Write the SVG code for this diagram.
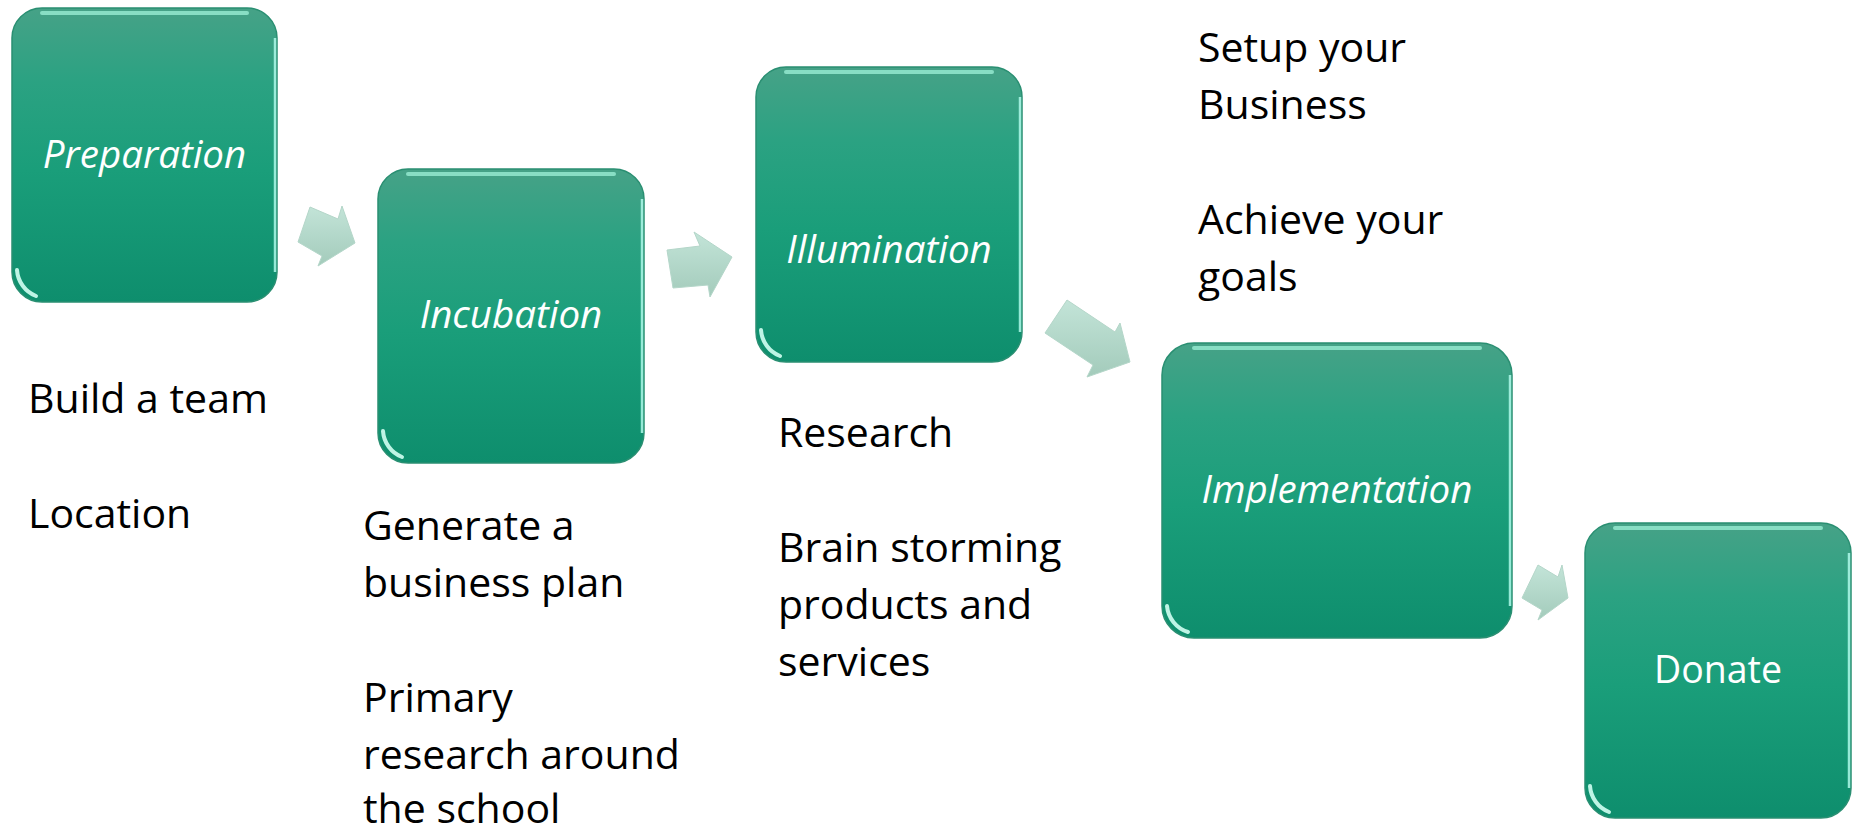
<svg xmlns="http://www.w3.org/2000/svg" width="1856" height="832" viewBox="0 0 1856 832">
<defs>
<linearGradient id="boxg" x1="0" y1="0" x2="0" y2="1">
<stop offset="0" stop-color="#46a287"/>
<stop offset="0.25" stop-color="#2ba282"/>
<stop offset="0.55" stop-color="#1a9e7a"/>
<stop offset="1" stop-color="#0e8e6d"/>
</linearGradient>
<linearGradient id="arrg" x1="0" y1="0" x2="0" y2="1">
<stop offset="0" stop-color="#c3e4d8"/>
<stop offset="1" stop-color="#a3cbbb"/>
</linearGradient>
<style>
.box{fill:url(#boxg);stroke:#2a8f72;stroke-width:1.5}
.hl-top{fill:none;stroke:#9ff2d8;stroke-width:4;stroke-linecap:round;opacity:0.75}
.hl-right{fill:none;stroke:#b8fff0;stroke-width:2.5;opacity:0.8}
.hl-corner{fill:none;stroke:#d2fff2;stroke-width:4;stroke-linecap:round;opacity:0.9}
.lbl{font-family:"Open Sans","Noto Sans",sans-serif;font-size:38.5px;fill:#ffffff;text-anchor:middle}
.it{font-style:italic}
.plain{font-size:37.5px}
.desc{font-family:"Open Sans","Noto Sans",sans-serif;font-size:41px;fill:#000000}
.arr{fill:url(#arrg);stroke:#b4d6c9;stroke-width:1}
</style>
</defs>
<rect width="1856" height="832" fill="#ffffff"/>

<g id="connectors">
<polygon class="arr" points="310,207 338,219 342,206 355,243 318,266 322,256 298,242"/>
<polygon class="arr" points="667,250 700,246 694,232 732,257 710,297 708,285 673,288"/>
<polygon class="arr" points="1067,300 1115,332 1120,323 1130,362 1087,377 1093,365 1045,333"/>
<polygon class="arr" points="1538,565 1558,577 1562,565 1568,598 1538,620 1542,610 1522,598"/>
</g>

<g id="node-preparation" transform="translate(12,8)">
<rect class="box" x="0" y="0" width="265" height="294" rx="30"/>
<path class="hl-top" d="M30,5 H235"/>
<path class="hl-right" d="M263,30 V264"/>
<path class="hl-corner" d="M5,262 A30 30 0 0 0 24,288"/>
<text class="lbl it" x="132.5" y="160">Preparation</text>
</g>

<g id="node-incubation" transform="translate(378,169)">
<rect class="box" x="0" y="0" width="266" height="294" rx="30"/>
<path class="hl-top" d="M30,5 H236"/>
<path class="hl-right" d="M264,30 V264"/>
<path class="hl-corner" d="M5,262 A30 30 0 0 0 24,288"/>
<text class="lbl it" x="133" y="159">Incubation</text>
</g>

<g id="node-illumination" transform="translate(756,67)">
<rect class="box" x="0" y="0" width="266" height="295" rx="30"/>
<path class="hl-top" d="M30,5 H236"/>
<path class="hl-right" d="M264,30 V265"/>
<path class="hl-corner" d="M5,263 A30 30 0 0 0 24,289"/>
<text class="lbl it" x="133" y="196">Illumination</text>
</g>

<g id="node-implementation" transform="translate(1162,343)">
<rect class="box" x="0" y="0" width="350" height="295" rx="32"/>
<path class="hl-top" d="M32,5 H318"/>
<path class="hl-right" d="M348,32 V263"/>
<path class="hl-corner" d="M5,263 A30 30 0 0 0 26,289"/>
<text class="lbl it" x="175" y="160">Implementation</text>
</g>

<g id="node-donate" transform="translate(1585,523)">
<rect class="box" x="0" y="0" width="266" height="295" rx="30"/>
<path class="hl-top" d="M30,5 H236"/>
<path class="hl-right" d="M264,30 V265"/>
<path class="hl-corner" d="M5,263 A30 30 0 0 0 24,289"/>
<text class="lbl plain" x="133" y="160">Donate</text>
</g>

<g id="notes-preparation">
<text class="desc" x="28" y="413">Build a team</text>
<text class="desc" x="28" y="528">Location</text>
</g>
<g id="notes-incubation">
<text class="desc" x="363" y="540">Generate a</text>
<text class="desc" x="363" y="597">business plan</text>
<text class="desc" x="363" y="712">Primary</text>
<text class="desc" x="363" y="769">research around</text>
<text class="desc" x="363" y="823">the school</text>
</g>
<g id="notes-illumination">
<text class="desc" x="778" y="447">Research</text>
<text class="desc" x="778" y="562">Brain storming</text>
<text class="desc" x="778" y="619">products and</text>
<text class="desc" x="778" y="676">services</text>
</g>
<g id="notes-implementation">
<text class="desc" x="1198" y="62">Setup your</text>
<text class="desc" x="1198" y="119">Business</text>
<text class="desc" x="1198" y="234">Achieve your</text>
<text class="desc" x="1198" y="291">goals</text>
</g>
</svg>
